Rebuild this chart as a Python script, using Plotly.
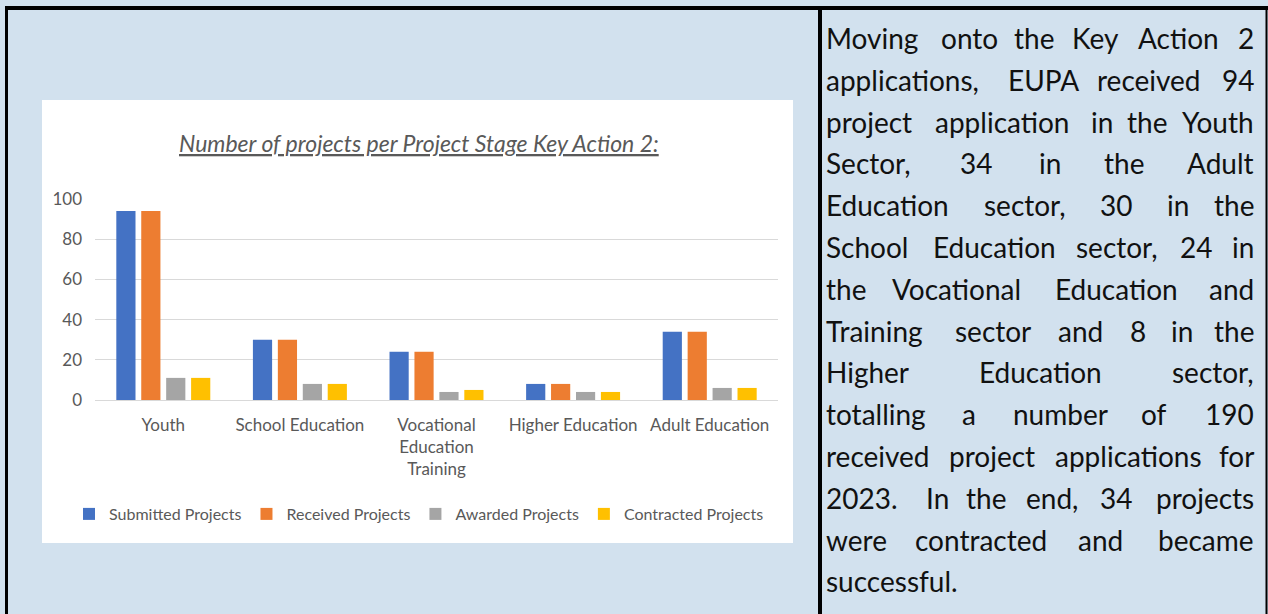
import plotly.graph_objects as go

W, H = 1268, 614

categories = ["Youth", "School Education", "Vocational<br>Education<br>Training", "Higher Education", "Adult Education"]
series_names = ["Submitted Projects", "Received Projects", "Awarded Projects", "Contracted Projects"]
submitted = [94, 30, 24, 8, 34]
received = [94, 30, 24, 8, 34]
awarded = [11, 8, 4, 4, 6]
contracted = [11, 8, 5, 4, 6]
colors = ["#4472C4", "#ED7D31", "#A5A5A5", "#FFC000"]
y_ticks = [0, 20, 40, 60, 80, 100]

title_text = "Number of projects per Project Stage Key Action 2:"

# justified paragraph: per line, (word, x, anchor)
text_lines = [
    [("Moving", 824, "left"), ("onto", 969, "center"), ("the", 1034, "center"), ("Key", 1095, "center"), ("Action", 1178, "center"), ("2", 1256, "right")],
    [("applications,", 824, "left"), ("EUPA", 1043, "center"), ("received", 1149, "center"), ("94", 1256, "right")],
    [("project", 824, "left"), ("application", 1002, "center"), ("in", 1102, "center"), ("the", 1147, "center"), ("Youth", 1256, "right")],
    [("Sector,", 824, "left"), ("34", 976, "center"), ("in", 1050, "center"), ("the", 1124, "center"), ("Adult", 1256, "right")],
    [("Education", 824, "left"), ("sector,", 1025, "center"), ("30", 1116, "center"), ("in", 1178, "center"), ("the", 1256, "right")],
    [("School", 824, "left"), ("Education", 994, "center"), ("sector,", 1117, "center"), ("24", 1196, "center"), ("in", 1256, "right")],
    [("the", 824, "left"), ("Vocational", 956, "center"), ("Education", 1116, "center"), ("and", 1256, "right")],
    [("Training", 824, "left"), ("sector", 993, "center"), ("and", 1080, "center"), ("8", 1138, "center"), ("in", 1182, "center"), ("the", 1256, "right")],
    [("Higher", 824, "left"), ("Education", 1040, "center"), ("sector,", 1256, "right")],
    [("totalling", 824, "left"), ("a", 969, "center"), ("number", 1060, "center"), ("of", 1154, "center"), ("190", 1256, "right")],
    [("received", 824, "left"), ("project", 992, "center"), ("applications", 1128, "center"), ("for", 1256, "right")],
    [("2023.", 824, "left"), ("In", 937, "center"), ("the", 986, "center"), ("end,", 1052, "center"), ("34", 1116, "center"), ("projects", 1256, "right")],
    [("were", 824, "left"), ("contracted", 981, "center"), ("and", 1100, "center"), ("became", 1256, "right")],
    [("successful.", 824, "left")],
]

def px(x):
    return x / W

def py(y):
    return 1 - y / H

fig = go.Figure()
for name, vals, c in zip(series_names, [submitted, received, awarded, contracted], colors):
    fig.add_trace(go.Bar(x=categories, y=vals, name=name, marker=dict(color=c, line=dict(width=0))))

chart_font = "Lato, Calibri, Arial, sans-serif"
grey = "#595959"

fig.update_layout(
    width=W, height=H, autosize=False,
    margin=dict(l=0, r=0, t=0, b=0, pad=0, autoexpand=False),
    paper_bgcolor="#d2e1ee",
    plot_bgcolor="rgba(0,0,0,0)",
    barmode="group", bargap=0.27, bargroupgap=0.23,
    font=dict(family=chart_font, color=grey, size=16),
    xaxis=dict(domain=[px(95), px(778)], showgrid=False, showline=False, ticks="",
               tickfont=dict(size=17, color=grey), ticklabelstandoff=13, fixedrange=True,
               automargin=False),
    yaxis=dict(domain=[py(400), py(199)], range=[0, 100], tickvals=y_ticks,
               showgrid=True, gridcolor="#d9d9d9", gridwidth=1, zeroline=True,
               zerolinecolor="#d9d9d9", zerolinewidth=1, showline=False, ticks="",
               tickfont=dict(size=17, color=grey), ticklabelstandoff=12, fixedrange=True,
               automargin=False),
    legend=dict(orientation="h", x=px(419), xanchor="center", y=py(514), yanchor="middle",
                font=dict(size=16, color=grey), bgcolor="rgba(0,0,0,0)", itemwidth=30,
                tracegroupgap=0),
    showlegend=True,
)

shapes = [
    # white chart panel
    dict(type="rect", xref="paper", yref="paper", x0=px(42), x1=px(793), y0=py(543), y1=py(100),
         fillcolor="white", line=dict(width=0), layer="below"),
    # table borders
    dict(type="line", xref="paper", yref="paper", x0=px(5), x1=px(1268), y0=py(8), y1=py(8),
         line=dict(color="black", width=4)),
    dict(type="line", xref="paper", yref="paper", x0=px(6.5), x1=px(6.5), y0=py(6), y1=py(614),
         line=dict(color="black", width=3)),
    dict(type="line", xref="paper", yref="paper", x0=px(820), x1=px(820), y0=py(6), y1=py(614),
         line=dict(color="black", width=4)),
    dict(type="line", xref="paper", yref="paper", x0=px(1266.5), x1=px(1266.5), y0=py(6), y1=py(614),
         line=dict(color="black", width=2)),
]
fig.update_layout(shapes=shapes)

annotations = [
    dict(text="<i><u>" + title_text + "</u></i>", xref="paper", yref="paper", x=px(419), y=py(143),
         xanchor="center", yanchor="middle", showarrow=False,
         font=dict(family=chart_font, size=23, color=grey)),
]

text_font = dict(family="Lato, 'Noto Sans', sans-serif", size=28, color="#111111")
for i, line in enumerate(text_lines):
    baseline = 47 + 41.8 * i
    yc = baseline - 9
    for word, x, anchor in line:
        annotations.append(dict(text=word, xref="paper", yref="paper", x=px(x), y=py(yc),
                                xanchor=anchor, yanchor="middle", showarrow=False,
                                font=text_font))
fig.update_layout(annotations=annotations)

fig.write_html(
    "out.html",
    config={"responsive": False, "displayModeBar": False},
    post_script="document.body.style.margin='0';document.body.style.padding='0';"
                "document.documentElement.style.overflow='hidden';document.body.style.overflow='hidden';",
)
